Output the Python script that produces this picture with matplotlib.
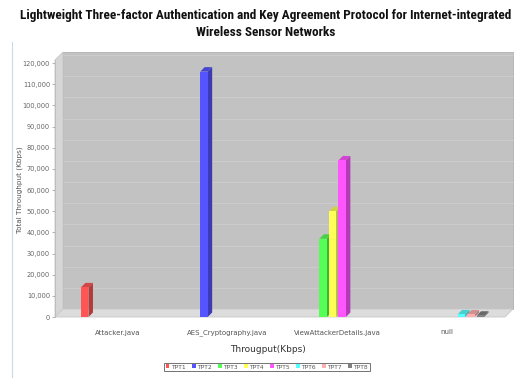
import matplotlib
matplotlib.use('Agg')
import matplotlib.pyplot as plt
import matplotlib.patches as patches
import matplotlib.transforms as mtransforms
from matplotlib import colors as mcolors
from matplotlib import font_manager

# --- Datos ---
categories = ['Attacker.java', 'AES_Cryptography.java', 'ViewAttackerDetails.java', 'null']
series = ['TPT1', 'TPT2', 'TPT3', 'TPT4', 'TPT5', 'TPT6', 'TPT7', 'TPT8']
series_colors = ['#ff5555', '#5555ff', '#55ff55', '#ffff55', '#ff55ff', '#55ffff', '#ffafaf', '#808080']
# (categoria, serie, valor)
bar_cat = [0, 1, 2, 2, 2, 3, 3, 3]
bar_series = [0, 1, 2, 3, 4, 5, 6, 7]
bar_values = [14000, 116000, 37000, 50000, 74000, 1200, 1200, 600]
yticks = list(range(0, 120001, 10000))

title = ('Lightweight Three-factor Authentication and Key Agreement Protocol for Internet-integrated\n'
         'Wireless Sensor Networks')

names = {f.name for f in font_manager.fontManager.ttflist}
title_font = 'DejaVu Sans'
for cand in ['Liberation Sans Narrow', 'DejaVu Sans Condensed', 'Roboto Condensed', 'Open Sans Condensed']:
    if cand in names:
        title_font = cand
        break

W, H, DPI = 516, 378, 100
fig = plt.figure(figsize=(W / DPI, H / DPI), dpi=DPI)
fig.patch.set_facecolor('white')

# zona frontal del grafico en pixeles
left_px, bottom_px, w_px, h_px = 55, 61, 450, 257
ax = fig.add_axes([left_px / W, bottom_px / H, w_px / W, h_px / H])
ax.set_facecolor('none')
for s in ax.spines.values():
    s.set_visible(False)

ymax = 121500
xmin = -0.574
unit_px = 109.7
xmax = xmin + w_px / unit_px
ax.set_xlim(xmin, xmax)
ax.set_ylim(0, ymax)

depth_px = 8
wall_off = mtransforms.ScaledTranslation(depth_px / DPI, depth_px / DPI, fig.dpi_scale_trans)
dxa, dya = depth_px / w_px, depth_px / h_px

# pared del fondo
ax.add_patch(patches.Rectangle((0, 0), 1, 1, transform=ax.transAxes + wall_off,
                               facecolor='#c2c2c2', edgecolor='#b0b0b0', linewidth=0.6,
                               zorder=0, clip_on=False))
# pared izquierda y suelo
ax.add_patch(patches.Polygon([(0, 0), (dxa, dya), (dxa, 1 + dya), (0, 1)],
                             closed=True, transform=ax.transAxes, facecolor='#d6d6d6',
                             edgecolor='#c8c8c8', linewidth=0.6, zorder=0.5, clip_on=False))
ax.add_patch(patches.Polygon([(0, 0), (1, 0), (1 + dxa, dya), (dxa, dya)],
                             closed=True, transform=ax.transAxes, facecolor='#dcdcdc',
                             edgecolor='#c8c8c8', linewidth=0.6, zorder=0.5, clip_on=False))

# lineas de rejilla en la pared del fondo
for t in yticks[1:]:
    ax.plot([0, 1], [t, t], transform=ax.get_yaxis_transform() + wall_off,
            color='#cdcdcd', linewidth=0.6, zorder=0.2, clip_on=False)

# barras 3D
slot = 9.5 / unit_px
bw = 7.5 / unit_px
bdx = 4.5 / unit_px
bdy = 4.5 / h_px * ymax
for c, s, v in zip(bar_cat, bar_series, bar_values):
    xc = c + (s - 3.5) * slot
    x0, x1 = xc - bw / 2, xc + bw / 2
    base = mcolors.to_rgb(series_colors[s])
    dark = tuple(0.7 * k for k in base)
    mid = tuple(0.82 * k for k in base)
    ax.add_patch(patches.Polygon([(x1, 0), (x1 + bdx, bdy), (x1 + bdx, v + bdy), (x1, v)],
                                 closed=True, facecolor=dark, edgecolor='none', zorder=3,
                                 clip_on=False))
    ax.add_patch(patches.Polygon([(x0, v), (x0 + bdx, v + bdy), (x1 + bdx, v + bdy), (x1, v)],
                                 closed=True, facecolor=mid, edgecolor='none', zorder=3,
                                 clip_on=False))
    ax.add_patch(patches.Rectangle((x0, 0), bw, v, facecolor=base, edgecolor='none',
                                   zorder=4, clip_on=False))

# ejes
ax.set_yticks(yticks)
ax.set_yticklabels([f'{t:,}' for t in yticks])
ax.set_xticks(range(len(categories)))
ax.set_xticklabels(categories)
ax.tick_params(axis='y', length=2, width=0.5, color='#999999', labelsize=4.8,
               labelcolor='#666666', pad=1.5)
ax.tick_params(axis='x', length=0, labelsize=5, labelcolor='#555555', pad=9)
ax.plot([0, 0], [0, 1], transform=ax.transAxes, color='#bbbbbb', linewidth=0.6, clip_on=False)

fig.text(20 / W, 1 - 190 / H, 'Total Throughput (Kbps)', rotation=90, ha='center',
         va='center', fontsize=5.2, color='#555555')
fig.text(268 / W, 1 - 350 / H, 'Througput(Kbps)', ha='center', va='center',
         fontsize=6.5, color='#333333')

ttl = fig.text(266 / W, 1 - 24 / H, title, ha='center', va='center', fontsize=8.8,
               fontweight='bold', family=[title_font, 'DejaVu Sans'], color='#111111',
               linespacing=1.45)
# ajustar el tamano del titulo al ancho disponible
renderer = fig.canvas.get_renderer()
tw = ttl.get_window_extent(renderer).width
ttl.set_fontsize(8.8 * 490 / tw)

# borde del panel
fig.add_artist(plt.Line2D([12 / W, 12 / W], [0, 1 - 42 / H], transform=fig.transFigure,
                          color='#c8dcea', linewidth=0.8))

handles = [patches.Patch(facecolor=c, edgecolor='none') for c in series_colors]
leg = fig.legend(handles, series, loc='center', bbox_to_anchor=(267 / W, 1 - 367 / H),
                 ncol=8, fontsize=4.3, frameon=True, fancybox=False, handlelength=0.6,
                 handleheight=0.6, handletextpad=0.3, columnspacing=1.0, borderpad=0.3,
                 labelcolor='#555555')
leg.get_frame().set_edgecolor('#333333')
leg.get_frame().set_linewidth(0.6)

fig.savefig('out.png', dpi=DPI)
